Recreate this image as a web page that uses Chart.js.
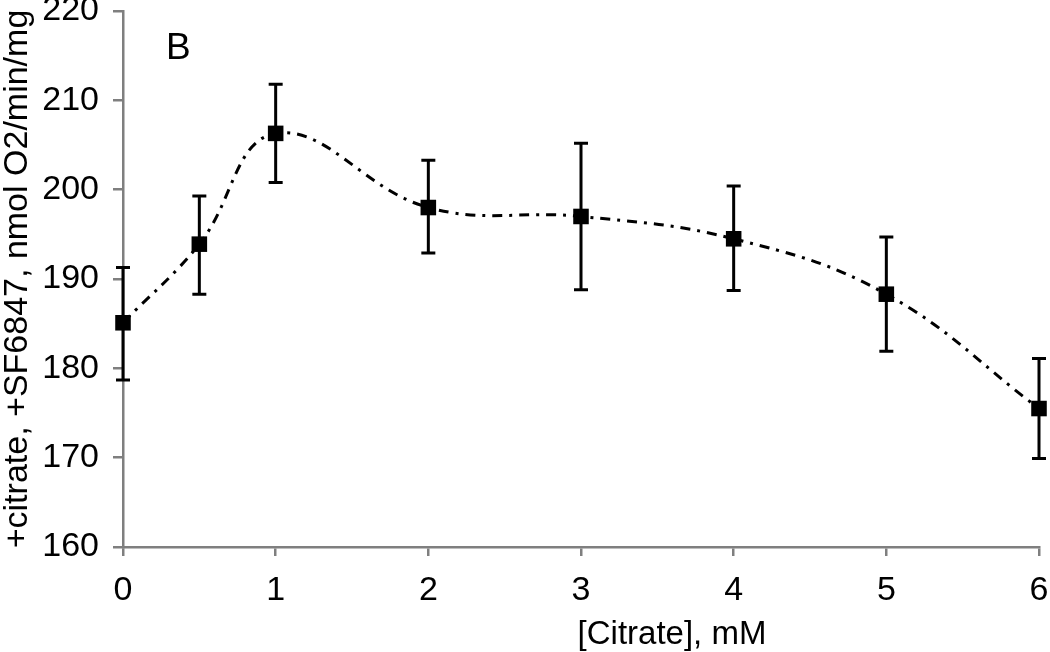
<!DOCTYPE html>
<html>
<head>
<meta charset="utf-8">
<script src="https://cdn.jsdelivr.net/npm/chart.js@4/dist/chart.umd.min.js"></script>
<style>
  html, body { margin: 0; padding: 0; background: #fff; }
  #wrap { width: 1050px; height: 652px; }
</style>
</head>
<body>
<div id="wrap"><canvas id="chart"></canvas></div>
<script>
// values
const citrate = [0, 0.5, 1, 2, 3, 4, 5, 6];
const rate = [185.1, 193.9, 206.3, 198.0, 197.0, 194.5, 188.3, 175.5];
const errHigh = [191.3, 199.3, 211.8, 203.3, 205.2, 200.4, 194.7, 181.1];
const errLow = [178.7, 188.3, 200.8, 192.9, 188.8, 188.7, 181.9, 169.9];
const yTicks = [160, 170, 180, 190, 200, 210, 220];
const xTicks = [0, 1, 2, 3, 4, 5, 6];
const xTitle = "[Citrate], mM";
const yTitle = "+citrate, +SF6847, nmol O2/min/mg";

const axisGrey = "#7f7f7f";
const font = "'Liberation Sans', Arial, sans-serif";

// error bars drawn under the markers
const errorBars = {
    id: "errorBars",
    beforeDatasetsDraw(chart) {
        const ctx = chart.ctx;
        const xs = chart.scales.x, ys = chart.scales.y;
        ctx.save();
        ctx.strokeStyle = "#000";
        ctx.lineWidth = 3;
        citrate.forEach((c, i) => {
            const px = xs.getPixelForValue(c);
            const top = ys.getPixelForValue(errHigh[i]);
            const bot = ys.getPixelForValue(errLow[i]);
            ctx.beginPath();
            ctx.moveTo(px, top); ctx.lineTo(px, bot);
            ctx.moveTo(px - 7, top); ctx.lineTo(px + 7, top);
            ctx.moveTo(px - 7, bot); ctx.lineTo(px + 7, bot);
            ctx.stroke();
        });
        ctx.restore();
    }
};

// panel letter and x axis title (sits right of centre in the original)
const extraText = {
    id: "extraText",
    afterDraw(chart) {
        const ctx = chart.ctx;
        ctx.save();
        ctx.fillStyle = "#000";
        ctx.textBaseline = "alphabetic";
        ctx.font = "37px " + font;
        ctx.fillText("B", 166, 59);
        ctx.font = "33px " + font;
        ctx.textAlign = "center";
        ctx.fillText(xTitle, 672, 644);
        ctx.restore();
    }
};

new Chart(document.getElementById("chart").getContext("2d"), {
    type: "line",
    data: {
        datasets: [{
            data: citrate.map((c, i) => ({ x: c, y: rate[i] })),
            borderColor: "#000",
            backgroundColor: "#000",
            borderWidth: 3,
            borderDash: [10, 7, 3, 7],
            tension: 0.4,
            fill: false,
            clip: false,
            pointStyle: "rect",
            pointRadius: 11,
            pointBackgroundColor: "#000",
            pointBorderWidth: 0
        }]
    },
    options: {
        responsive: true,
        maintainAspectRatio: false,
        animation: false,
        layout: { padding: { top: 11, right: 9, left: 0, bottom: 0 } },
        plugins: {
            legend: { display: false },
            tooltip: { enabled: false }
        },
        scales: {
            x: {
                type: "linear",
                min: 0,
                max: 6,
                afterBuildTicks: (s) => { s.ticks = xTicks.map(v => ({ value: v })); },
                afterFit: (s) => { s.height = 105; s.paddingLeft = 0; s.paddingRight = 0; },
                ticks: {
                    color: "#000",
                    padding: 14,
                    font: { family: font, size: 34 }
                },
                grid: {
                    drawOnChartArea: false,
                    drawTicks: true,
                    tickLength: 9,
                    color: axisGrey,
                    lineWidth: 2.5
                },
                border: { color: axisGrey, width: 2.5 }
            },
            y: {
                min: 160,
                max: 220,
                afterBuildTicks: (s) => { s.ticks = yTicks.map(v => ({ value: v })); },
                afterFit: (s) => { s.width = 123; s.paddingTop = 0; s.paddingBottom = 0; },
                ticks: {
                    color: "#000",
                    padding: 14,
                    font: { family: font, size: 34 }
                },
                grid: {
                    drawOnChartArea: false,
                    drawTicks: true,
                    tickLength: 10,
                    color: axisGrey,
                    lineWidth: 2.5
                },
                border: { color: axisGrey, width: 2.5 },
                title: {
                    display: true,
                    text: yTitle,
                    color: "#000",
                    font: { family: font, size: 34 },
                    padding: { top: -3, bottom: 0 }
                }
            }
        }
    },
    plugins: [errorBars, extraText]
});
</script>
</body>
</html>
